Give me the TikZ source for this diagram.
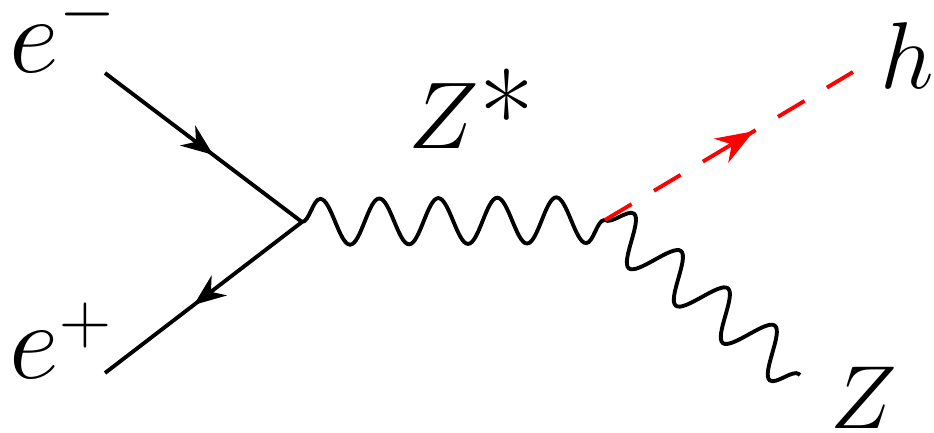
\RequirePackage{fix-cm}
\documentclass[tikz,border=0pt]{standalone}
\usetikzlibrary{arrows.meta, calc, decorations.pathmorphing, decorations.markings}

\newcommand{\chg}[2]{\raisebox{#1}{\fontsize{20.5}{20.5}\selectfont$#2$}}

\begin{document}
\begin{tikzpicture}[>=Stealth,
  fermion/.style={line width=1.1pt, postaction={decorate},
    decoration={markings, mark=at position #1 with {\arrow{Stealth[length=3.2mm,width=2.5mm]}}}},
  fermion/.default=0.55,
  boson/.style={line width=1.1pt, decorate,
    decoration={snake, segment length=#1, amplitude=2.3mm}},
  boson/.default=5.9mm,
  higgs/.style={red, line width=1.1pt, dash pattern=on 3.1mm off 2.6mm},
  harrow/.style={postaction={solid, decorate,
      decoration={markings, mark=at position #1 with {\arrow{Stealth[length=3.8mm,width=2.8mm]}}}}},
  lbl/.style={inner sep=0pt, anchor=base west, font=\fontsize{27}{32}\selectfont}]
  \useasboundingbox (0,0) rectangle (9.34,4.32);

  % vertices and external ends
  \coordinate (em) at (1.05,3.59);
  \coordinate (ep) at (1.05,0.59);
  \coordinate (v1) at (3.02,2.10);
  \coordinate (v2) at (6.05,2.12);
  \coordinate (hh) at (8.53,3.60);
  \coordinate (zz) at (8.00,0.57);
  \coordinate (hm) at ($(v2)!0.5!(hh)$);

  % labels
  \node[lbl] (eml) at (0.09,3.60) {\fontsize{31}{32}\selectfont$e$\chg{4.0mm}{-}};
  \node[lbl] (epl) at (0.09,0.54) {\fontsize{31}{32}\selectfont$e$\chg{3.5mm}{+}};
  \node[lbl] (zsl) at (4.08,2.84) {$Z$\raisebox{-1mm}{\fontsize{34}{34}\selectfont*}};
  \node[lbl] (hl)  at (8.80,3.44) {$h$};
  \node[lbl] (zl)  at (8.30,0.04) {\fontsize{25.5}{30}\selectfont$Z$};

  % lines
  \draw[fermion] (em) -- (v1);
  \draw[fermion] (v1) -- (ep);
  \draw[boson] (v1) -- (v2);
  \draw[boson=6mm] (v2) -- (zz);
  \draw[higgs] (v2) -- (hm);
  \draw[higgs, harrow=0.2] (hm) -- (hh);
\end{tikzpicture}
\end{document}
